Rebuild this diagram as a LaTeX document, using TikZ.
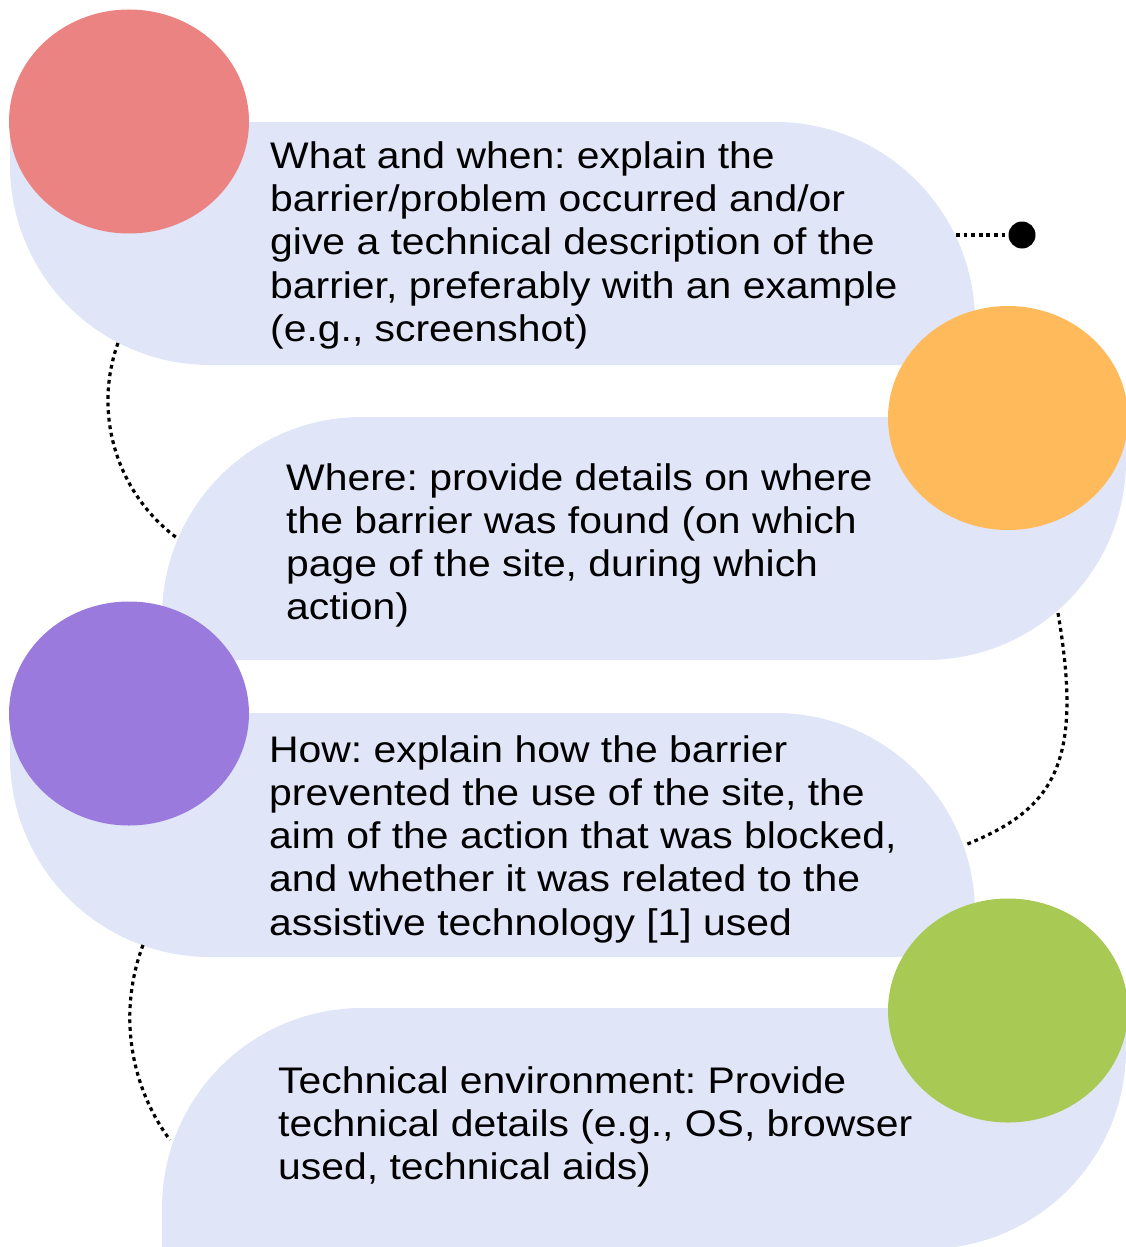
\documentclass[tikz,border=0pt]{standalone}
\usepackage{fontspec}
\setmainfont{Liberation Sans}[FakeStretch=1.105]
\usetikzlibrary{shapes.geometric}
\definecolor{bandc}{HTML}{E0E5F7}
\definecolor{pinkc}{HTML}{EC8383}
\definecolor{orangec}{HTML}{FFBB5B}
\definecolor{purplec}{HTML}{9B7ADD}
\definecolor{greenc}{HTML}{A8CA55}
\frenchspacing
\begin{document}
\begin{tikzpicture}[x=1pt,y=-1pt,
  band/.style={fill=bandc},
  blob/.style={ellipse, minimum width=240pt, minimum height=224pt, inner sep=0pt},
  dotline/.style={line width=3.2pt, dash pattern=on 3.8pt off 3.8pt},
  txt/.style={anchor=base west, inner sep=0pt, font=\fontsize{37}{43.3}\selectfont}]
\useasboundingbox (0,0) rectangle (1126,1247);
\clip (0,0) rectangle (1126,1247);
% bands
\fill[band] (10,122) -- (775,122) arc[start angle=-90,end angle=0,radius=200] -- (975,365) -- (210,365) arc[start angle=90,end angle=180,radius=200] -- cycle;
\fill[band] (162,660) -- (162,617) arc[start angle=180,end angle=270,radius=200] -- (1126,417) -- (1126,460) arc[start angle=0,end angle=90,radius=200] -- cycle;
\fill[band] (10,713) -- (775,713) arc[start angle=-90,end angle=0,radius=200] -- (975,957) -- (210,957) arc[start angle=90,end angle=180,radius=200] -- cycle;
\fill[band] (162,1249) -- (162,1208) arc[start angle=180,end angle=270,radius=200] -- (1126,1008) -- (1126,1049) arc[start angle=0,end angle=90,radius=200] -- cycle;
% circles
\node[blob, fill=pinkc] (c1) at (129,121.5) {};
\node[blob, fill=orangec] (c2) at (1008,418) {};
\node[blob, fill=purplec] (c3) at (129,713.5) {};
\node[blob, fill=greenc] (c4) at (1008,1010.5) {};
% connectors
\coordinate (d1) at (956,235);
\node[circle, fill=black, minimum width=27pt, minimum height=24pt, inner sep=0pt] (dot) at (1022,235) {};
\draw[dotline] (d1) -- (dot);
\coordinate (a1) at (118,343);
\coordinate (a2) at (177,538);
\draw[dotline] (a1) .. controls (92.5,413.9) and (116.7,493.1) .. (a2);
\coordinate (b1) at (1058,613);
\coordinate (b2) at (965,845);
\draw[dotline] (b1) .. controls (1083.5,763) and (1055,809) .. (b2);
\coordinate (e1) at (143,945);
\coordinate (e2) at (170,1140);
\draw[dotline] (e1) .. controls (118.5,1010.3) and (128.5,1083.8) .. (e2);
% texts
\node[txt] (t1) at (270,168.3) {\vtop{\hbox{What and when: explain the}\hbox{barrier/problem occurred and/or}\hbox{give a technical description of the}\hbox{barrier, preferably with an example}\hbox{(e.g., screenshot)}}};
\node[txt] (t2) at (286,490) {\vtop{\hbox{Where: provide details on where}\hbox{the barrier was found (on which}\hbox{page of the site, during which}\hbox{action)}}};
\node[txt] (t3) at (269,762) {\vtop{\hbox{How: explain how the barrier}\hbox{prevented the use of the site, the}\hbox{aim of the action that was blocked,}\hbox{and whether it was related to the}\hbox{assistive technology [1] used}}};
\node[txt] (t4) at (278,1093) {\vtop{\hbox{Technical environment: Provide}\hbox{technical details (e.g., OS, browser}\hbox{used, technical aids)}}};
\end{tikzpicture}
\end{document}
